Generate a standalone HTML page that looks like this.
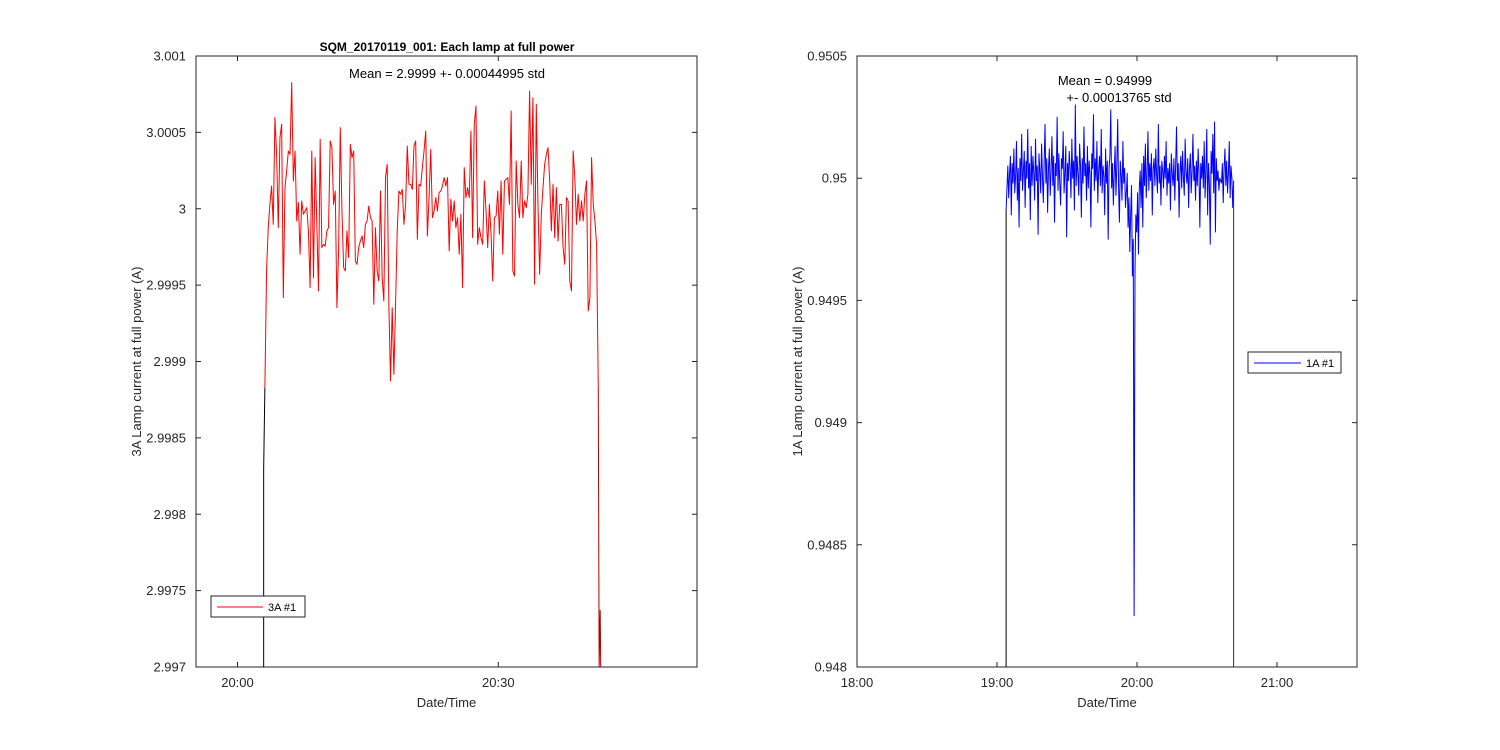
<!DOCTYPE html>
<html><head><meta charset="utf-8"><style>
html,body{margin:0;padding:0;background:#fff;}
svg{display:block;font-family:"Liberation Sans",Arial,sans-serif;}
</style></head><body>
<svg id="fig" width="1500" height="750" viewBox="0 0 1500 750">
<rect x="0" y="0" width="1500" height="750" fill="#fff"/>
<g id="left"></g>
<g id="right"></g>
</svg>
<script>
// ---- Left chart data (3A lamp). Times in minutes after 20:00, values as µA deviation from 3 A ----
const leftTimeStart = 3.15;
const leftTimeEnd = 41.5;
const leftDev = [-1171,-407,-124,29,149,-102,597,356,-124,466,553,-582,138,247,378,356,826,182,378,-80,40,-298,51,-36,-14,7,-145,-516,378,-451,335,-102,-538,455,-254,-233,-244,-145,-124,444,400,29,116,-647,-276,531,-14,-385,-407,-145,-320,422,335,378,-342,-364,-254,-211,-178,-254,-102,-80,18,-58,-80,-625,-124,-407,-473,116,-451,-604,204,291,-625,-1127,-647,-1084,-625,-145,116,95,127,-102,29,411,160,160,127,411,444,-200,160,149,269,378,509,-178,73,389,-58,-14,73,-14,106,116,149,204,149,204,-276,62,-80,51,-124,-58,-298,-36,-516,269,73,138,73,509,-189,553,673,-233,-124,-189,-233,182,-14,-254,29,-167,-473,-58,-47,116,-167,182,-298,182,193,204,29,640,-407,-440,313,29,-58,313,-58,51,7,95,771,160,727,-494,684,29,-429,-36,138,291,356,400,182,-145,160,-189,138,-211,29,29,-254,-364,73,51,-473,-538,378,204,-102,95,-80,51,-80,95,182,-669,-582,335,29,-80,-233,-1171];
const leftLeadTimes = [3.01,3.01,3.15];
const leftLeadDev = [-3000,-1700,-1171];
const leftTailTimes = [41.5,41.6,41.72,41.78];
const leftTailDev = [-1171,-3000,-2630,-3000];
const leftYTicks = [2.997,2.9975,2.998,2.9985,2.999,2.9995,3,3.0005,3.001];
const leftYLabels = ["2.997","2.9975","2.998","2.9985","2.999","2.9995","3","3.0005","3.001"];
const leftXTicks = [0,30];
const leftXLabels = ["20:00","20:30"];

// ---- Right chart data (1A lamp). Times in minutes after 18:00, values as µA deviation from 0.95 A ----
const rightTimeStart = 63.9;
const rightTimeEnd = 161.4;
const rightDev = [-130,-40,50,-80,20,90,-150,60,-20,120,-60,10,150,-90,40,-200,80,-10,180,-50,30,110,-120,70,0,200,-40,60,-170,130,-30,90,20,-90,160,-10,50,-230,100,30,-60,140,10,-100,70,220,-20,80,-140,40,120,-70,30,170,-30,90,-180,60,10,250,-50,100,-20,-110,80,40,190,-60,20,130,-240,60,-10,110,40,-80,160,0,70,-130,300,-30,90,20,-70,140,50,-160,80,-20,210,10,60,-90,130,-40,70,20,-200,100,40,260,-50,80,-10,150,-100,30,90,-30,200,-60,50,10,-150,120,-20,70,-250,40,90,280,-40,60,-110,20,130,-70,50,240,-30,-180,70,10,-90,150,-20,40,-120,-60,20,-200,-80,-300,-150,-30,-400,-250,-1790,-380,-150,-220,-60,-310,-40,30,-120,60,-200,90,-30,140,-80,20,190,-50,60,-10,100,-150,40,80,-30,120,10,-60,220,-20,50,-110,70,30,-40,90,0,150,-70,40,-20,60,-130,100,20,-30,80,-90,50,210,-10,60,-160,30,90,-40,110,0,-70,160,20,-20,80,-120,40,100,-60,30,180,-10,50,-90,70,-30,120,20,-200,60,0,90,-40,150,-80,30,200,-150,60,-20,-270,110,20,180,-60,230,-220,80,-10,30,-50,0,-10,-20,60,-100,40,120,-30,70,-60,20,150,-80,50,0,-120,-10];
const rightLeadTimes = [63.9,63.9];
const rightLeadDev = [-2000,-130];
const rightTailTimes = [161.4,161.4];
const rightTailDev = [-10,-2000];
const rightYTicks = [0.948,0.9485,0.949,0.9495,0.95,0.9505];
const rightYLabels = ["0.948","0.9485","0.949","0.9495","0.95","0.9505"];
const rightXTicks = [0,60,120,180];
const rightXLabels = ["18:00","19:00","20:00","21:00"];

const NS = "http://www.w3.org/2000/svg";
function mk(parent, tag, attrs, text){
  const e = document.createElementNS(NS, tag);
  for (const k in attrs) e.setAttribute(k, attrs[k]);
  if (text !== undefined) e.textContent = text;
  parent.appendChild(e);
  return e;
}
function linScale(d0,d1,r0,r1){ return v => r0 + (v-d0)/(d1-d0)*(r1-r0); }

function drawAxes(g, box, xs, ys, xTicks, xLabels, yTicks, yLabels, ylabelText){
  const frame = mk(g,'rect',{x:box.x0,y:box.y0,width:box.x1-box.x0,height:box.y1-box.y0,fill:'none',stroke:'#262626','stroke-width':1});
  
  
  yTicks.forEach((t,i)=>{
    const y = ys(t);
    const tk = mk(g,'path',{d:`M${box.x0},${y}h5M${box.x1},${y}h-5`,stroke:'#262626','stroke-width':1,fill:'none'});
    
    
    const lb = mk(g,'text',{x:box.x0-10,y:y+4.5,'text-anchor':'end','font-size':13,fill:'#262626'},yLabels[i]);
    
    
  });
  xTicks.forEach((t,i)=>{
    const x = xs(t);
    const tk = mk(g,'path',{d:`M${x},${box.y1}v-5M${x},${box.y0}v5`,stroke:'#262626','stroke-width':1,fill:'none'});
    
    
    const lb = mk(g,'text',{x:x,y:box.y1+20,'text-anchor':'middle','font-size':13,fill:'#262626'},xLabels[i]);
    
    
  });
  const cx=(box.x0+box.x1)/2, cy=(box.y0+box.y1)/2;
  const xl = mk(g,'text',{x:cx,y:box.y1+40,'text-anchor':'middle','font-size':13,fill:'#262626'},'Date/Time');
  
  
  const yl = mk(g,'text',{x:0,y:0,'text-anchor':'middle','font-size':13,fill:'#262626',transform:`translate(${box.x0-55},${cy}) rotate(-90)`},ylabelText);
  
  
}
function poly(g, times, vals, xs, ys, color, name){
  const pts = times.map((t,i)=>xs(t).toFixed(2)+','+ys(vals[i]).toFixed(2)).join(' ');
  const p = mk(g,'polyline',{points:pts,fill:'none',stroke:color,'stroke-width':1,'stroke-linejoin':'round'});
  
  
}
function uniformTimes(a,b,n){ const r=[]; for(let i=0;i<n;i++) r.push(a+(b-a)*i/(n-1)); return r; }

// Left chart
(function(){
  const g = document.getElementById('left');
  const box = {x0:196,x1:697,y0:56,y1:667};
  const xs = linScale(0,30,237.5,498.3);
  const ys = linScale(2.997,3.001,box.y1,box.y0);
  const yv = d => 3 + d*1e-6;
  drawAxes(g, box, xs, ys, leftXTicks, leftXLabels, leftYTicks, leftYLabels, '3A Lamp current at full power (A)');
  const cg = mk(g,'g',{'clip-path':'url(#clipL)'});
  const cp = mk(document.getElementById('fig'),'clipPath',{id:'clipL'});
  mk(cp,'rect',{x:box.x0,y:box.y0,width:box.x1-box.x0,height:box.y1-box.y0+1});
  poly(cg, leftLeadTimes, leftLeadDev.map(yv), xs, ys, '#000', 'series-lead-in');
  poly(cg, uniformTimes(leftTimeStart,leftTimeEnd,leftDev.length), leftDev.map(yv), xs, ys, '#ff0000', 'series-3a-1');
  poly(cg, leftTailTimes, leftTailDev.map(yv), xs, ys, '#b00000', 'series-tail');
  const t = mk(g,'text',{x:447,y:51,'text-anchor':'middle','font-size':12,'font-weight':'bold',fill:'#000'},'SQM_20170119_001: Each lamp at full power');
  
  
  const m = mk(g,'text',{x:447,y:78,'text-anchor':'middle','font-size':13,fill:'#000'},'Mean = 2.9999 +- 0.00044995 std');
  
  
  const lg = mk(g,'g',{});
  
  
  mk(lg,'rect',{x:211,y:596,width:94,height:21,fill:'#fff',stroke:'#262626','stroke-width':1});
  mk(lg,'line',{x1:217,x2:263,y1:607,y2:607,stroke:'#ff0000','stroke-width':1});
  const le = mk(lg,'text',{x:268,y:611,'font-size':11,fill:'#000'},'3A #1');
  
  
})();

// Right chart
(function(){
  const g = document.getElementById('right');
  const box = {x0:857,x1:1357,y0:56,y1:667};
  const xs = linScale(0,60,857,997);
  const ys = linScale(0.948,0.9505,box.y1,box.y0);
  const yv = d => 0.95 + d*1e-6;
  drawAxes(g, box, xs, ys, rightXTicks, rightXLabels, rightYTicks, rightYLabels, '1A Lamp current at full power (A)');
  const cg = mk(g,'g',{'clip-path':'url(#clipR)'});
  const cp = mk(document.getElementById('fig'),'clipPath',{id:'clipR'});
  mk(cp,'rect',{x:box.x0,y:box.y0,width:box.x1-box.x0,height:box.y1-box.y0+1});
  poly(cg, rightLeadTimes, rightLeadDev.map(yv), xs, ys, '#000', 'series-lead-in');
  poly(cg, uniformTimes(rightTimeStart,rightTimeEnd,rightDev.length), rightDev.map(yv), xs, ys, '#0000ff', 'series-1a-1');
  poly(cg, rightTailTimes, rightTailDev.map(yv), xs, ys, '#333', 'series-tail');
  const m1 = mk(g,'text',{x:1105,y:85,'text-anchor':'middle','font-size':13,fill:'#000'},'Mean = 0.94999');
  
  
  const m2 = mk(g,'text',{x:1119,y:102,'text-anchor':'middle','font-size':13,fill:'#000'},'+- 0.00013765 std');
  
  
  const lg = mk(g,'g',{});
  
  
  mk(lg,'rect',{x:1248,y:352,width:93,height:21,fill:'#fff',stroke:'#262626','stroke-width':1});
  mk(lg,'line',{x1:1254,x2:1301,y1:363,y2:363,stroke:'#0000ff','stroke-width':1});
  const le = mk(lg,'text',{x:1306,y:367,'font-size':11,fill:'#000'},'1A #1');
  
  
})();
</script>
</body></html>
